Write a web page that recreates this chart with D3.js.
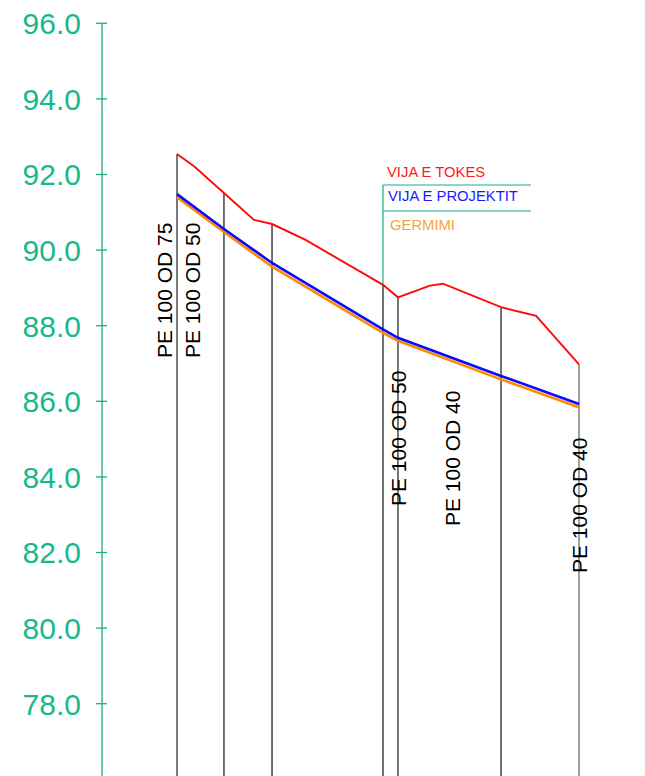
<!DOCTYPE html>
<html>
<head>
<meta charset="utf-8">
<script src="https://cdn.jsdelivr.net/npm/d3@7"></script>
<style>
  html, body { margin: 0; padding: 0; background: #fff; }
  svg { display: block; font-family: "Liberation Sans", Arial, sans-serif; }
</style>
</head>
<body>
<svg id="chart" width="645" height="776"></svg>
<script>
// Longitudinal profile: ground line, design line and trench bottom (m a.s.l.)
const yTicks = [96, 94, 92, 90, 88, 86, 84, 82, 80, 78];

// Chainage (m) of profile stations
const stations = [0, 29.2, 59.1, 128.1, 137.4, 201.5, 250];

// Existing ground (VIJA E TOKES) – surveyed points
const groundChainage = [0, 10.6, 29.2, 47.9, 59.1, 80.0, 128.1, 137.4, 157.3, 165.4, 201.5, 223.3, 250];
const groundLevel    = [92.54, 92.22, 91.51, 90.80, 90.69, 90.27, 89.08, 88.75, 89.06, 89.11, 88.49, 88.26, 86.98];

// Design line (VIJA E PROJEKTIT) at stations
const designLevel = [91.48, 90.56, 89.66, 87.90, 87.68, 86.67, 85.93];

// Trench bottom (GERMIMI) at stations
const trenchLevel = [91.40, 90.48, 89.56, 87.81, 87.60, 86.58, 85.84];

// Pipe annotations and the chainage they sit at
const pipeLabels   = ["PE 100 OD 75", "PE 100 OD 50", "PE 100 OD 50", "PE 100 OD 40", "PE 100 OD 40"];
const pipeChainage = [-8.1, 9.3, 137.4, 171.6, 250];

const legendNames = ["VIJA E TOKES", "VIJA E PROJEKTIT", "GERMIMI"];

const svg = d3.select("#chart");
const H = 776;

const x = d3.scaleLinear().domain([0, 250]).range([177, 579]);
const y = d3.scaleLinear().domain([78, 96]).range([703.7, 23.3]);

const axisColor = "#1aae86";
const labelColor = "#17b98c";

// Vertical axis
const axis = svg.append("g").attr("transform", "translate(102,0)");
axis.append("line")
  .attr("x1", 0).attr("x2", 0)
  .attr("y1", y(96)).attr("y2", H)
  .attr("stroke", axisColor).attr("stroke-width", 1.3);
axis.selectAll("line.tick").data(yTicks).join("line")
  .attr("class", "tick")
  .attr("x1", -6).attr("x2", 5)
  .attr("y1", d => y(d)).attr("y2", d => y(d))
  .attr("stroke", axisColor).attr("stroke-width", 1.3);
axis.selectAll("text").data(yTicks).join("text")
  .attr("x", -21).attr("y", d => y(d)).attr("dy", "0.36em")
  .attr("text-anchor", "end")
  .attr("font-size", 30)
  .attr("fill", labelColor)
  .text(d => d3.format(".1f")(d));

// Legend frame
const lg = svg.append("g");
lg.append("line").attr("x1", 383).attr("x2", 383).attr("y1", 185).attr("y2", y(groundLevel[6]))
  .attr("stroke", axisColor).attr("stroke-width", 1.2);
lg.append("line").attr("x1", 383).attr("x2", 531).attr("y1", 185).attr("y2", 185)
  .attr("stroke", axisColor).attr("stroke-width", 1.2);
lg.append("line").attr("x1", 383).attr("x2", 531).attr("y1", 211).attr("y2", 211)
  .attr("stroke", axisColor).attr("stroke-width", 1.2);
const legendStyle = [
  { x: 387, y: 177, fill: "#ff1a1a" },
  { x: 388, y: 201, fill: "#1a1aff" },
  { x: 390, y: 230, fill: "#f7a23a" }
];
lg.selectAll("text").data(legendNames).join("text")
  .attr("x", (d, i) => legendStyle[i].x)
  .attr("y", (d, i) => legendStyle[i].y)
  .attr("font-size", 14.8)
  .attr("fill", (d, i) => legendStyle[i].fill)
  .text(d => d);

// Station verticals, from ground level down
const groundAt = c => groundLevel[groundChainage.indexOf(c)];
const stationStroke = ["#7a7a7a", "#111", "#333", "#333", "#555", "#111", "#888"];
const stationWidth  = [2, 1.2, 1.4, 1.4, 1.6, 1.2, 1.6];
svg.append("g").selectAll("line").data(stations).join("line")
  .attr("x1", d => x(d)).attr("x2", d => x(d))
  .attr("y1", d => y(groundAt(d))).attr("y2", H)
  .attr("stroke", (d, i) => stationStroke[i])
  .attr("stroke-width", (d, i) => stationWidth[i]);

// Pipe labels (rotated)
const labelBottom = [358, 358, 506, 526, 573];
svg.append("g").selectAll("text").data(pipeLabels).join("text")
  .attr("transform", (d, i) => `translate(${x(pipeChainage[i])},${labelBottom[i]}) rotate(-90)`)
  .attr("dy", "0.36em")
  .attr("font-size", 21)
  .attr("fill", "#000")
  .text(d => d);

// Profile lines
const line = d3.line().x(d => x(d[0])).y(d => y(d[1]));
svg.append("path")
  .datum(stations.map((c, i) => [c, trenchLevel[i]]))
  .attr("d", line).attr("fill", "none")
  .attr("stroke", "#ff8a00").attr("stroke-width", 2.6);
svg.append("path")
  .datum(stations.map((c, i) => [c, designLevel[i]]))
  .attr("d", line).attr("fill", "none")
  .attr("stroke", "#0a0aff").attr("stroke-width", 2.6);
svg.append("path")
  .datum(groundChainage.map((c, i) => [c, groundLevel[i]]))
  .attr("d", line).attr("fill", "none")
  .attr("stroke", "#ff0a0a").attr("stroke-width", 1.9);
</script>
</body>
</html>
